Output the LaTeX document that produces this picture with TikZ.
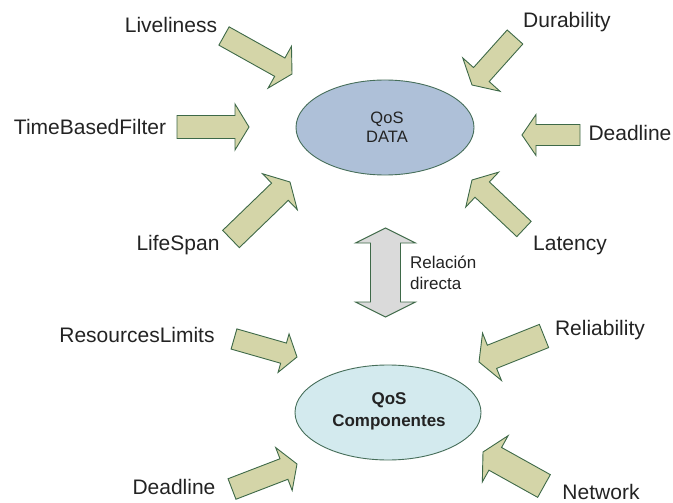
\documentclass[tikz,border=0pt]{standalone}
\usepackage{fontspec}
\setmainfont{Liberation Sans}
\usetikzlibrary{calc,shapes.geometric}
\definecolor{arrfill}{RGB}{212,213,168}
\definecolor{arrline}{RGB}{62,105,72}
\definecolor{ellA}{RGB}{174,192,216}
\definecolor{ellB}{RGB}{211,234,238}
\definecolor{ellline}{RGB}{70,110,90}
\definecolor{txt}{RGB}{35,35,35}
\definecolor{dblfill}{RGB}{218,218,218}
% #1 tail, #2 tip, #3 shaft half width, #4 head half width
\newcommand\qosarrow[4]{%
  \coordinate (#1h) at ($(#2)!14pt!(#1)$);
  \draw[blockarrow] ($(#1)!#3pt!90:(#2)$) -- ($(#1h)!#3pt!-90:(#1)$)
    -- ($(#1h)!#4pt!-90:(#1)$) -- (#2) -- ($(#1h)!#4pt!90:(#1)$)
    -- ($(#1h)!#3pt!90:(#1)$) -- ($(#1)!#3pt!-90:(#2)$) -- cycle;
}
\begin{document}
\begin{tikzpicture}[x=1pt,y=-1pt,
  blockarrow/.style={fill=arrfill,draw=arrline,line width=0.9pt,line join=miter},
  lbl/.style={text=txt,font=\fontsize{21}{24}\selectfont,inner sep=0pt},
  qosell/.style={ellipse,draw=ellline,line width=0.9pt,minimum width=#1,minimum height=95pt,inner sep=0pt},
]
\useasboundingbox (0,0) rectangle (673,503);
% ellipses
\node[qosell=178pt,fill=ellA] (data) at (385,127.5) {};
\node[qosell=186pt,fill=ellB] (comp) at (388,412.5) {};
\node[text=txt,font=\fontsize{16.5}{19}\selectfont,align=center,inner sep=0pt] (datat) at (387,127.5) {QoS\\DATA};
\node[text=txt,font=\fontsize{17}{22}\bfseries\selectfont,align=center,inner sep=0pt] (compt) at (389,411) {QoS\\Componentes};
% double arrow
\coordinate (dt) at (385.5,228);
\coordinate (db) at (385.5,317);
\draw[fill=dblfill,draw=arrline,line width=0.9pt] (dt) -- ($(dt)+(30,15)$) -- ($(dt)+(15,15)$) -- ($(db)+(15,-15)$)
  -- ($(db)+(30,-15)$) -- (db) -- ($(db)+(-30,-15)$) -- ($(db)+(-15,-15)$) -- ($(dt)+(-15,15)$) -- ($(dt)+(-30,15)$) -- cycle;
\node[text=txt,font=\fontsize{17}{21}\selectfont,align=left,anchor=west,inner sep=0pt] (rel) at (410,273) {Relación\\directa};
% labels
\node[lbl] (lvl) at (171,25) {Liveliness};
\node[lbl] (tbl) at (90,127) {TimeBasedFilter};
\node[lbl] (lsl) at (178,245) {LifeSpan};
\node[lbl] (dul) at (567,22) {Durability};
\node[lbl] (dll) at (630,133) {Deadline};
\node[lbl] (lal) at (570,245) {Latency};
\node[lbl] (rll) at (137,335) {ResourcesLimits};
\node[lbl] (ddl) at (174,487) {Deadline};
\node[lbl] (rel2) at (600,330) {Reliability};
\node[lbl] (nwl) at (601,492) {Network};
% arrows
\coordinate (lv) at (224,36);   \coordinate (lvt) at (292,74);
\coordinate (tb) at (177,127);  \coordinate (tbt) at (249,127);
\coordinate (ls) at (231,239);  \coordinate (lst) at (290,182);
\coordinate (du) at (515,37);   \coordinate (dut) at (472,85);
\coordinate (dl) at (580,135);  \coordinate (dlt) at (522,135);
\coordinate (la) at (524,229);  \coordinate (lat) at (472,180);
\coordinate (rl) at (234,339);  \coordinate (rlt) at (297,357);
\coordinate (dd) at (232,489);  \coordinate (ddt) at (297,464);
\coordinate (re) at (544,336);  \coordinate (ret) at (479,362);
\coordinate (nw) at (544,486);  \coordinate (nwt) at (483,452);
\qosarrow{lv}{lvt}{10.5}{24}
\qosarrow{tb}{tbt}{11.5}{23}
\qosarrow{ls}{lst}{12}{25}
\qosarrow{du}{dut}{10.5}{25}
\qosarrow{dl}{dlt}{10.5}{20.5}
\qosarrow{la}{lat}{10.5}{24}
\qosarrow{rl}{rlt}{10.5}{20}
\qosarrow{dd}{ddt}{11}{23}
\qosarrow{re}{ret}{12.5}{25.5}
\qosarrow{nw}{nwt}{13}{26.5}
\end{tikzpicture}
\end{document}
